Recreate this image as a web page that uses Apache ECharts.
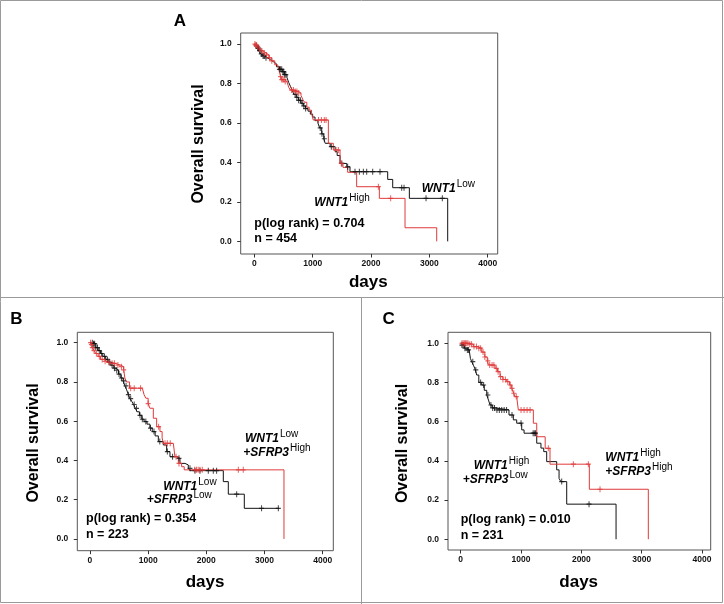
<!DOCTYPE html>
<html><head><meta charset="utf-8">
<script src="https://cdn.jsdelivr.net/npm/echarts@6/dist/echarts.min.js"></script>
<style>html,body{margin:0;padding:0;background:#fff}#c{width:724px;height:604px}</style>
</head><body><div id="c"></div>
<script>
// ---- tick labels ----
const xTicks = [0, 1000, 2000, 3000, 4000];
const yTicks = [0, 0.2, 0.4, 0.6, 0.8, 1.0];

// ---- Panel A : WNT1 Low (black) vs WNT1 High (red) ----  [day, survival after event]
const aLowSteps = [[0,1],[25,0.99],[50,0.98],[80,0.965],[110,0.95],[140,0.94],[180,0.93],[230,0.92],[280,0.91],[330,0.9],[380,0.885],[430,0.872],[480,0.86],[520,0.845],[560,0.83],[590,0.805],[620,0.785],[650,0.765],[680,0.745],[720,0.73],[760,0.715],[800,0.7],[840,0.686],[880,0.673],[920,0.66],[960,0.645],[1000,0.63],[1040,0.612],[1090,0.6],[1120,0.575],[1155,0.545],[1190,0.52],[1215,0.497],[1300,0.48],[1385,0.455],[1420,0.435],[1470,0.395],[1585,0.378],[1640,0.353],[2286,0.314],[2372,0.272],[2657,0.218],[3314,0]];
const aLowCensor = [35,55,75,95,120,150,170,200,430,450,470,490,505,520,540,700,730,760,790,820,850,880,1130,1160,1200,1320,1500,1600,1726,1800,1869,1926,2029,2154,2526,2566,2943,3222];
const aHighSteps = [[0,1],[20,0.995],[50,0.985],[80,0.975],[110,0.965],[150,0.955],[200,0.945],[250,0.93],[300,0.915],[350,0.895],[400,0.885],[430,0.86],[450,0.835],[470,0.82],[520,0.81],[560,0.8],[590,0.78],[620,0.767],[680,0.76],[750,0.752],[800,0.74],[830,0.72],[860,0.705],[900,0.68],[940,0.665],[980,0.65],[1010,0.615],[1269,0.497],[1354,0.463],[1469,0.395],[1520,0.375],[1600,0.35],[1754,0.277],[2143,0.218],[2583,0.069],[3126,0]];
const aHighCensor = [10,25,40,60,90,130,170,210,260,300,450,470,490,510,530,640,670,700,730,760,1100,1150,1200,1230,1400,1440,1490,2126,2337];

// ---- Panel B : WNT1 Low + SFRP3 Low (black) vs WNT1 Low + SFRP3 High (red) ----
const bLowSteps = [[0,1],[60,0.995],[100,0.975],[140,0.96],[180,0.945],[220,0.93],[270,0.915],[320,0.9],[360,0.885],[410,0.87],[450,0.86],[490,0.84],[530,0.82],[570,0.805],[600,0.78],[630,0.76],[660,0.735],[690,0.715],[720,0.7],[750,0.685],[780,0.665],[810,0.648],[850,0.63],[890,0.61],[930,0.598],[980,0.585],[1030,0.565],[1070,0.547],[1120,0.525],[1175,0.496],[1260,0.479],[1318,0.445],[1375,0.419],[1490,0.411],[1547,0.385],[1633,0.377],[1690,0.36],[1720,0.348],[2292,0.292],[2378,0.228],[2653,0.156],[3249,0.156]];
const bLowCensor = [40,60,80,100,130,160,200,250,300,340,380,420,460,500,540,580,620,660,700,760,800,860,900,960,1040,1100,1200,1330,1420,1530,1719,1805,1891,2034,2120,2177,2522,2950,3238];
const bHighSteps = [[0,1],[15,0.99],[40,0.975],[70,0.96],[100,0.945],[140,0.93],[180,0.915],[230,0.905],[290,0.9],[350,0.895],[430,0.886],[520,0.878],[580,0.862],[600,0.82],[630,0.8],[680,0.768],[900,0.768],[930,0.735],[960,0.717],[1000,0.69],[1030,0.666],[1089,0.615],[1146,0.572],[1203,0.547],[1240,0.515],[1261,0.487],[1433,0.487],[1461,0.419],[1519,0.385],[1576,0.368],[1620,0.352],[3335,0]];
const bHighCensor = [10,25,40,70,110,160,210,260,320,380,420,480,540,580,700,760,870,1000,1180,1290,1330,1380,1480,1530,1800,1830,1860,1890,1930,2550,2635];

// ---- Panel C : WNT1 High + SFRP3 Low (black) vs WNT1 High + SFRP3 High (red) ----
const cLowSteps = [[0,1],[10,0.991],[60,0.975],[99,0.966],[140,0.957],[160,0.923],[182,0.906],[215,0.885],[243,0.864],[265,0.838],[300,0.8],[348,0.787],[390,0.76],[431,0.736],[460,0.71],[486,0.685],[520,0.67],[569,0.66],[800,0.634],[872,0.609],[928,0.592],[1011,0.558],[1050,0.541],[1260,0.49],[1330,0.465],[1376,0.447],[1425,0.396],[1591,0.354],[1630,0.31],[1660,0.294],[1757,0.179],[2575,0]];
const cLowCensor = [20,40,70,110,130,200,250,330,380,450,500,530,560,600,640,680,720,760,850,1000,1200,1220,1240,1674,2127];
const cHighSteps = [[0,1],[140,0.995],[209,0.983],[280,0.975],[348,0.955],[400,0.93],[440,0.91],[458,0.889],[569,0.872],[610,0.855],[651,0.83],[700,0.815],[762,0.804],[810,0.787],[845,0.77],[878,0.745],[900,0.728],[934,0.711],[955,0.66],[1204,0.592],[1260,0.523],[1400,0.464],[1480,0.383],[2132,0.255],[3110,0]];
const cHighCensor = [20,40,60,80,100,120,150,180,220,260,300,330,370,400,450,480,520,550,590,620,660,700,740,780,820,850,880,920,1000,1050,1100,1150,1452,1867,2116,2309];

// ---- texts ----
const panelLetters = ['A', 'B', 'C'];
const pTexts = ['p(log rank) = 0.704', 'p(log rank) = 0.354', 'p(log rank) = 0.010'];
const nTexts = ['n = 454', 'n = 223', 'n = 231'];
const yTitle = 'Overall survival';
const xTitle = 'days';

function survAt(steps, t) {
  let v = steps[0][1];
  for (const s of steps) { if (s[0] <= t) v = s[1]; else break; }
  return v;
}
function censorPts(steps, days) { return days.map(d => [d, survAt(steps, d)]); }

const BLACK = '#111111', RED = '#e03a3a';
const PLUS = 'path://M2,0L3,0L3,2L5,2L5,3L3,3L3,5L2,5L2,3L0,3L0,2L2,2Z';

const panels = [
  { grid: {left: 240.7, top: 33, width: 257, height: 221}, x: [-233, 4171], y: [-0.064, 1.056],
    low: aLowSteps, lowC: aLowCensor, high: aHighSteps, highC: aHighCensor },
  { grid: {left: 77.3, top: 332.3, width: 256, height: 218.4}, x: [-218, 4183], y: [-0.060, 1.053],
    low: bLowSteps, lowC: bLowCensor, high: bHighSteps, highC: bHighCensor },
  { grid: {left: 448, top: 332.3, width: 262.7, height: 217.7}, x: [-211, 4144], y: [-0.055, 1.056],
    low: cLowSteps, lowC: cLowCensor, high: cHighSteps, highC: cHighCensor }
];

const FONT = 'Arial, "Liberation Sans", sans-serif';
const grids = [], xAxes = [], yAxes = [], series = [];
panels.forEach((p, i) => {
  grids.push(Object.assign({show: true, borderColor: '#555', borderWidth: 1, backgroundColor: 'transparent'}, p.grid));
  xAxes.push({type: 'value', gridIndex: i, min: p.x[0], max: p.x[1], position: 'bottom',
    axisLine: {show: false, onZero: false}, splitLine: {show: false},
    axisTick: {show: true, length: 3.5, customValues: xTicks, lineStyle: {color: '#333'}},
    axisLabel: {customValues: xTicks, fontSize: 8.5, fontWeight: 'bold', color: '#111', margin: 5, fontFamily: FONT,
      formatter: v => String(v)}});
  yAxes.push({type: 'value', gridIndex: i, min: p.y[0], max: p.y[1], position: 'left',
    axisLine: {show: false, onZero: false}, splitLine: {show: false},
    axisTick: {show: true, length: 3.5, customValues: yTicks, lineStyle: {color: '#333'}},
    axisLabel: {customValues: yTicks, fontSize: 8.5, fontWeight: 'bold', color: '#111', margin: 9, fontFamily: FONT,
      formatter: v => v.toFixed(1)}});
  const mk = (steps, cens, color) => {
    series.push({type: 'line', xAxisIndex: i, yAxisIndex: i, data: steps, step: 'end', symbol: 'none',
      lineStyle: {width: 1, color: color}, silent: true, z: 2});
    series.push({type: 'scatter', xAxisIndex: i, yAxisIndex: i, data: censorPts(steps, cens),
      symbol: PLUS, symbolSize: [5, 6], itemStyle: {color: color}, silent: true, z: 3});
  };
  mk(p.low, p.lowC, BLACK);
  mk(p.high, p.highC, RED);
});

// ---- annotations ----
const g = [];
function txt(x, y, text, fs, extra) {
  g.push({type: 'text', x: x, y: y, silent: true, rotation: (extra && extra.rotation) || 0,
    style: Object.assign({text: text, fontSize: fs, fontWeight: 'bold', fontFamily: FONT, fill: '#000',
      align: 'center', verticalAlign: 'middle'}, (extra && extra.style) || {})});
}
const measureCtx = document.createElement('canvas').getContext('2d');
function supLabel(left, baseline, main, sup) {
  const fs = 12, sfs = 10;
  measureCtx.font = 'italic bold ' + fs + 'px Arial, "Liberation Sans", sans-serif';
  const w = measureCtx.measureText(main).width;
  txt(left, baseline - 0.33 * fs, main, fs, {style: {align: 'left', fontStyle: 'italic'}});
  txt(left + w + 1, baseline - 5 - 0.33 * sfs, sup, sfs, {style: {align: 'left', fontWeight: 'normal'}});
}
// frame lines
g.push({type: 'rect', silent: true, shape: {x: 0.5, y: 0.5, width: 722, height: 602}, style: {fill: 'none', stroke: '#9a9a9a', lineWidth: 1}});
g.push({type: 'line', silent: true, shape: {x1: 0, y1: 297.5, x2: 724, y2: 297.5}, style: {stroke: '#9a9a9a', lineWidth: 1}});
g.push({type: 'line', silent: true, shape: {x1: 361.5, y1: 297.5, x2: 361.5, y2: 604}, style: {stroke: '#9a9a9a', lineWidth: 1}});

// panel letters
txt(180, 21, panelLetters[0], 17);
txt(16.5, 319, panelLetters[1], 17);
txt(388.7, 319, panelLetters[2], 17);
// axis titles
txt(198.3, 144, yTitle, 16, {rotation: Math.PI / 2});
txt(33.3, 443, yTitle, 16, {rotation: Math.PI / 2});
txt(403, 443.5, yTitle, 16, {rotation: Math.PI / 2});
txt(368.3, 282, xTitle, 17);
txt(205, 582, xTitle, 17);
txt(578.7, 582, xTitle, 17);
// p values / n
const pl = [254.3, 86, 460.7], pb = [228, 523, 524], nb = [242.5, 539, 539.5];
for (let i = 0; i < 3; i++) {
  txt(pl[i], pb[i] - 4.2, pTexts[i], 12.5, {style: {align: 'left'}});
  txt(pl[i], nb[i] - 4.2, nTexts[i], 12.5, {style: {align: 'left'}});
}
// group labels
supLabel(314.3, 206.7, 'WNT1', 'High');
supLabel(421.7, 192.7, 'WNT1', 'Low');
supLabel(245, 442.7, 'WNT1', 'Low');
supLabel(243.3, 456.7, '+SFRP3', 'High');
supLabel(163.3, 490.7, 'WNT1', 'Low');
supLabel(146.7, 504, '+SFRP3', 'Low');
supLabel(473.7, 469.3, 'WNT1', 'High');
supLabel(462.7, 483.3, '+SFRP3', 'Low');
supLabel(605.3, 461.7, 'WNT1', 'High');
supLabel(605.3, 475.7, '+SFRP3', 'High');

const chart = echarts.init(document.getElementById('c'), null, {renderer: 'canvas'});
chart.setOption({
  animation: false,
  backgroundColor: '#fff',
  grid: grids, xAxis: xAxes, yAxis: yAxes, series: series,
  graphic: g
});
</script></body></html>
